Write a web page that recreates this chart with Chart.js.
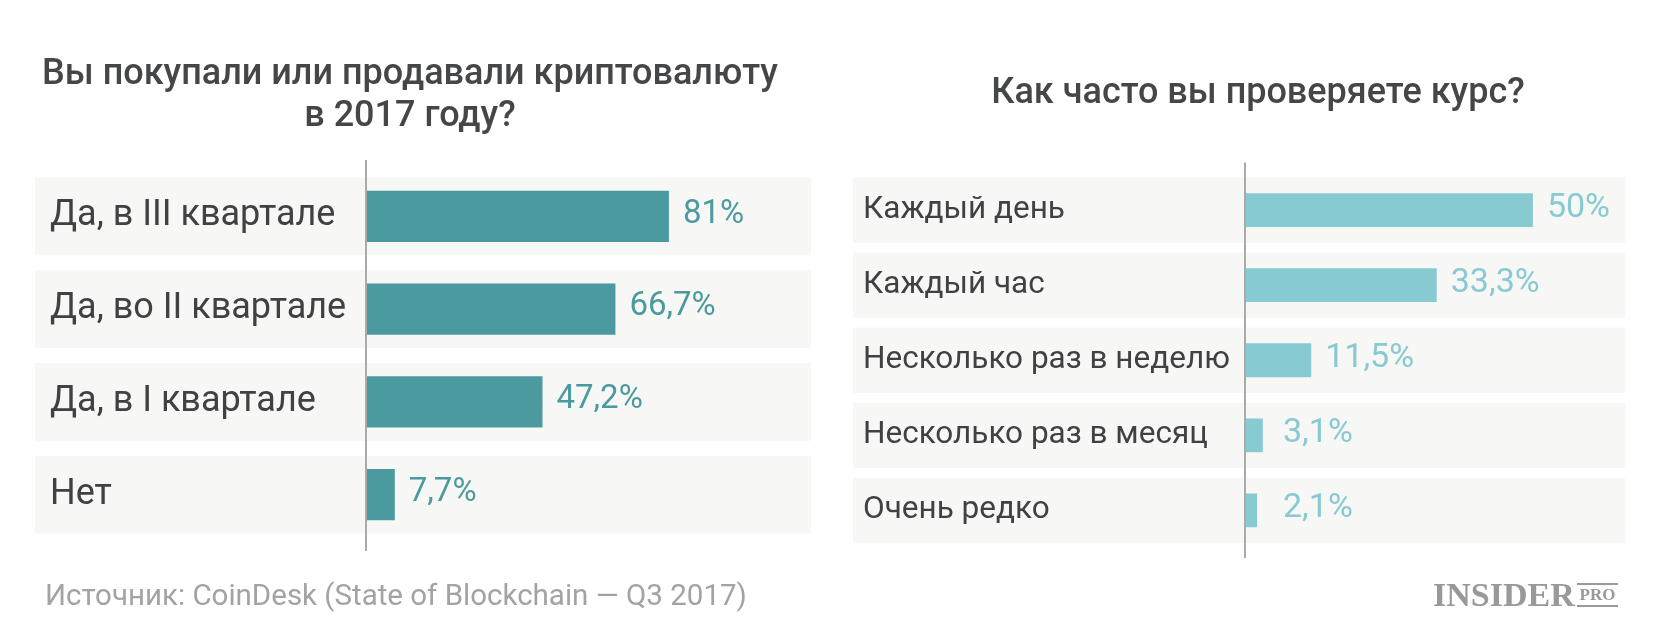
<!DOCTYPE html>
<html>
<head>
<meta charset="utf-8">
<script src="https://cdn.jsdelivr.net/npm/chart.js@4.4.0/dist/chart.umd.min.js"></script>
<style>
body { margin: 0; background: #fff; width: 1668px; height: 624px; overflow: hidden; position: relative; }
canvas { position: absolute; top: 0; }
#left { left: 0; }
#right { left: 834px; }
#source { position: absolute; left: 45px; top: 578px; font: 29.5px Roboto; color: #a3a3a3; white-space: nowrap; }
#logo { position: absolute; left: 1433px; top: 576px; color: #999; white-space: nowrap; font: bold 34px "Liberation Serif"; }
#pro { position: absolute; left: 1577px; top: 583px; width: 41px; height: 24px; box-sizing: border-box;
       border-top: 2px solid #999; border-bottom: 2px solid #999; color: #999;
       font: bold 17px "Liberation Serif"; line-height: 20px; text-align: center; }
</style>
</head>
<body>
<canvas id="left" width="834" height="624"></canvas>
<canvas id="right" width="834" height="624"></canvas>
<div id="source">Источник: CoinDesk (State of Blockchain — Q3 2017)</div>
<div id="logo">INSIDER</div>
<div id="pro">PRO</div>
<script>
// data
var leftTitle = ['Вы покупали или продавали криптовалюту', 'в 2017 году?'];
var leftLabels = ['Да, в III квартале', 'Да, во II квартале', 'Да, в I квартале', 'Нет'];
var leftValues = [81, 66.7, 47.2, 7.7];

var rightTitle = ['Как часто вы проверяете курс?'];
var rightLabels = ['Каждый день', 'Каждый час', 'Несколько раз в неделю', 'Несколько раз в месяц', 'Очень редко'];
var rightValues = [50, 33.3, 11.5, 3.1, 2.1];

function pct(v) {
    return String(v).replace('.', ',') + '%';
}

// grey bands behind each row
var rowBands = {
    id: 'rowBands',
    beforeDraw: function (chart, args, opts) {
        var y = chart.scales.y;
        var ctx = chart.ctx;
        var n = chart.data.labels.length;
        var h = (y.height / n) * opts.ratio;
        var x0 = y.left - opts.inset;
        ctx.save();
        ctx.fillStyle = '#f7f7f5';
        for (var i = 0; i < n; i++) {
            var c = y.getPixelForValue(i);
            ctx.fillRect(x0, c - h / 2, chart.chartArea.right - x0, h);
        }
        ctx.restore();
    }
};

// zero line + value labels
var valueLabels = {
    id: 'valueLabels',
    afterDatasetsDraw: function (chart, args, opts) {
        var ctx = chart.ctx;
        var x0 = chart.scales.x.getPixelForValue(0);
        var area = chart.chartArea;
        ctx.save();
        ctx.strokeStyle = '#aaaaaa';
        ctx.lineWidth = 2;
        ctx.beginPath();
        ctx.moveTo(x0, area.top - 10);
        ctx.lineTo(x0, area.bottom + 10);
        ctx.stroke();

        ctx.fillStyle = opts.color;
        ctx.font = opts.size + 'px Roboto';
        ctx.textBaseline = 'middle';
        ctx.textAlign = 'left';
        var vals = chart.data.datasets[0].data;
        chart.getDatasetMeta(0).data.forEach(function (bar, i) {
            var x = Math.max(bar.x + opts.gap, x0 + opts.minOff);
            ctx.fillText(pct(vals[i]), x, bar.y - 2);
        });
        ctx.restore();
    }
};

// heading, centred on its own x (not on the padded box)
var heading = {
    id: 'heading',
    afterDraw: function (chart, args, opts) {
        var ctx = chart.ctx;
        ctx.save();
        ctx.fillStyle = '#444648';
        ctx.font = '500 36px Roboto';
        ctx.textAlign = 'center';
        ctx.textBaseline = 'middle';
        opts.lines.forEach(function (t, i) {
            ctx.fillText(t, opts.x, opts.y + i * 42.5);
        });
        ctx.restore();
    }
};

function makeChart(id, labels, values, o) {
    return new Chart(document.getElementById(id).getContext('2d'), {
        type: 'bar',
        data: {
            labels: labels,
            datasets: [{
                data: values,
                backgroundColor: o.barColor,
                borderWidth: 0,
                categoryPercentage: 1,
                barPercentage: o.barPct
            }]
        },
        options: {
            indexAxis: 'y',
            responsive: false,
            animation: false,
            events: [],
            layout: { padding: o.padding },
            scales: {
                x: { display: false, min: 0, max: o.max },
                y: {
                    grid: { display: false },
                    border: { display: false },
                    ticks: {
                        crossAlign: 'far',
                        color: '#3f4142',
                        font: { family: 'Roboto', size: o.tickSize }
                    },
                    afterFit: function (s) { s.width = o.yWidth; }
                }
            },
            plugins: {
                legend: { display: false },
                tooltip: { enabled: false },
                title: { display: false },
                heading: { lines: o.title, x: o.titleX, y: o.titleY },
                rowBands: { ratio: o.bandRatio, inset: o.inset },
                valueLabels: { color: o.textColor, size: o.valueSize, gap: 14, minOff: 38 }
            }
        },
        plugins: [rowBands, valueLabels, heading]
    });
}

var leftChart = makeChart('left', leftLabels, leftValues, {
    title: leftTitle,
    titleX: 410,
    titleY: 74.5,
    padding: { left: 50, right: 23, top: 170, bottom: 83 },
    yWidth: 316,
    max: 119,
    barColor: '#4b9a9f',
    textColor: '#4b9a9f',
    barPct: 0.55,
    bandRatio: 0.84,
    inset: 15,
    tickSize: 36,
    valueSize: 33
});

var rightChart = makeChart('right', rightLabels, rightValues, {
    title: rightTitle,
    titleX: 424,
    titleY: 93.5,
    padding: { left: 29, right: 43, top: 172.5, bottom: 76 },
    yWidth: 382,
    max: 66,
    barColor: '#88cad2',
    textColor: '#88cad2',
    barPct: 0.45,
    bandRatio: 0.87,
    inset: 10,
    tickSize: 31.5,
    valueSize: 34
});
</script>
</body>
</html>
